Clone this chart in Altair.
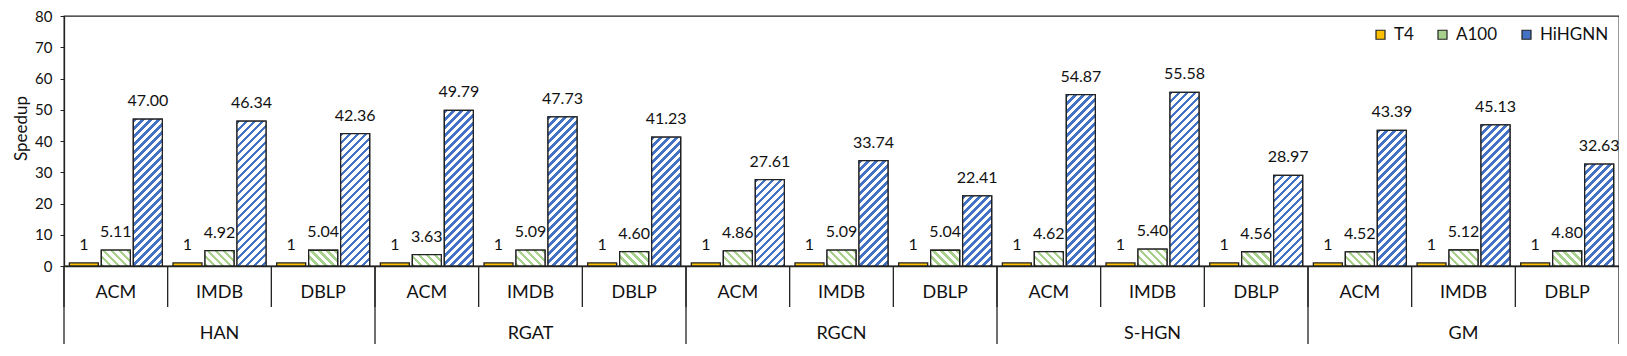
import altair as alt
import pandas as pd

# ---------------- data ----------------
models = ["HAN", "RGAT", "RGCN", "S-HGN", "GM"]
datasets = ["ACM", "IMDB", "DBLP"]
series = ["T4", "A100", "HiHGNN"]
t4 = [1, 1, 1, 1, 1, 1, 1, 1, 1, 1, 1, 1, 1, 1, 1]
a100 = [5.11, 4.92, 5.04, 3.63, 5.09, 4.60, 4.86, 5.09, 5.04, 4.62, 5.40, 4.56, 4.52, 5.12, 4.80]
hihgnn = [47.00, 46.34, 42.36, 49.79, 47.73, 41.23, 27.61, 33.74, 22.41, 54.87, 55.58, 28.97, 43.39, 45.13, 32.63]
y_ticks = [0, 10, 20, 30, 40, 50, 60, 70, 80]
colors = ["#FFC000", "#A9D18E", "#4472C4"]

# ---------------- layout ----------------
W, H = 1555, 250
YMAX = 80
PI, PO = 0.094, 0.167
FONT = "Lato"
INK = "#111111"
LINE = "#222222"

keys = []
rows = []
i = 0
for m in models:
    for d in datasets:
        k = f"{m}|{d}"
        keys.append(k)
        vals = {"T4": t4[i], "A100": a100[i], "HiHGNN": hihgnn[i]}
        for s in series:
            v = vals[s]
            lab = "1" if s == "T4" else f"{v:.2f}"
            rows.append({"key": k, "model": m, "dataset": d, "series": s, "value": v, "label": lab})
        i += 1
df = pd.DataFrame(rows)

step = W / len(keys)
bw = step / (3 - PI + 2 * PO) * (1 - PI)


def stripes(color, w, h, up, q=8.0, frac=0.45):
    n = (w + h) / q
    stops = []
    k = 0
    while k < n:
        a = k / n
        b = min((k + frac) / n, 1.0)
        c = min((k + 1) / n, 1.0)
        stops += [
            {"offset": a, "color": color},
            {"offset": b, "color": color},
            {"offset": b, "color": "#ffffff"},
            {"offset": c, "color": "#ffffff"},
        ]
        k += 1
    t = (w + h) / (w * w + h * h)
    if up:
        x1, y1, x2, y2 = 0, 0, t * w, t * h
    else:
        x1, y1, x2, y2 = 0, 1, t * w, 1 - t * h
    return {"gradient": "linear", "x1": x1, "y1": y1, "x2": x2, "y2": y2, "stops": stops}


x_axis = alt.Axis(labels=False, ticks=False, title=None, domain=True,
                  domainColor=LINE, domainWidth=1.3)
x_scale = alt.Scale(domain=keys, paddingInner=0, paddingOuter=0)
x_enc = alt.X("key:N", scale=x_scale, axis=x_axis, sort=keys)
xo_enc = alt.XOffset("series:N", sort=series,
                     scale=alt.Scale(domain=series, paddingInner=PI, paddingOuter=PO))
y_enc = alt.Y("value:Q", scale=alt.Scale(domain=[0, YMAX], nice=False),
              axis=alt.Axis(values=y_ticks, title="Speedup", grid=False, tickSize=4,
                            labelFontSize=15, titleFontSize=17, labelPadding=8,
                            titlePadding=4, titleY=112, titleFontWeight="normal",
                            domainColor=LINE, domainWidth=1.3, tickColor=LINE))

base = alt.Chart(df)

bars = base.mark_bar(stroke=LINE, strokeWidth=1.3).encode(
    x=x_enc, xOffset=xo_enc, y=y_enc,
    color=alt.Color("series:N", sort=series,
                    scale=alt.Scale(domain=series, range=colors),
                    legend=alt.Legend(title=None, orient="top-right", direction="horizontal",
                                      symbolType="square", symbolSize=81,
                                      symbolStrokeColor=LINE, symbolStrokeWidth=1.2,
                                      labelFontSize=17, labelFont=FONT, labelColor=INK,
                                      columnPadding=20, labelOffset=5, offset=10, padding=0)),
)

layers = [bars]
for idx, k in enumerate(keys):
    for s, col, up in (("A100", colors[1], False), ("HiHGNN", colors[2], True)):
        v = a100[idx] if s == "A100" else hihgnn[idx]
        h = v * H / YMAX
        g = stripes(col, bw, h, up)
        layers.append(
            base.transform_filter((alt.datum.key == k) & (alt.datum.series == s))
            .mark_bar(fill=g, stroke=LINE, strokeWidth=1.3)
            .encode(x=x_enc, xOffset=xo_enc, y=y_enc)
        )

values_txt = base.mark_text(baseline="alphabetic", dy=-13, fontSize=16, font=FONT, color=INK).encode(
    x=x_enc, xOffset=xo_enc, y=y_enc, text="label:N"
)
layers.append(values_txt)

one = base.transform_filter(alt.datum.series == "T4")
ds_txt = one.mark_text(baseline="middle", fontSize=18, font=FONT, color=INK).encode(
    x=x_enc, y=alt.value(H + 27), text="dataset:N"
)
mdl_txt = one.transform_filter(alt.datum.dataset == "IMDB").mark_text(
    baseline="middle", fontSize=18, font=FONT, color=INK).encode(
    x=x_enc, y=alt.value(H + 68), text="model:N"
)
short_rules = one.mark_rule(color=LINE, strokeWidth=1.3).encode(
    x=alt.X("key:N", bandPosition=0, scale=x_scale, axis=x_axis, sort=keys),
    y=alt.value(H), y2=alt.value(H + 41)
)
long_rules = one.transform_filter(alt.datum.dataset == "ACM").mark_rule(color=LINE, strokeWidth=1.3).encode(
    x=alt.X("key:N", bandPosition=0, scale=x_scale, axis=x_axis, sort=keys),
    y=alt.value(H), y2=alt.value(H + 100)
)
end_rule = one.transform_filter(alt.datum.key == keys[-1]).mark_rule(color=LINE, strokeWidth=1.3).encode(
    x=alt.X("key:N", bandPosition=1, scale=x_scale, axis=x_axis, sort=keys),
    y=alt.value(H), y2=alt.value(H + 100)
)
layers += [ds_txt, mdl_txt, short_rules, long_rules, end_rule]

chart = alt.layer(*layers).properties(
    width=W, height=H,
    autosize=alt.AutoSizeParams(type="none"),
    padding={"left": 56, "top": 8, "right": 0, "bottom": 78},
).configure_view(stroke=LINE, strokeWidth=1.3).configure_axis(
    labelFont=FONT, titleFont=FONT, labelColor=INK, titleColor=INK
)

chart.save("out.html", embed_options={"renderer": "svg", "actions": False})
